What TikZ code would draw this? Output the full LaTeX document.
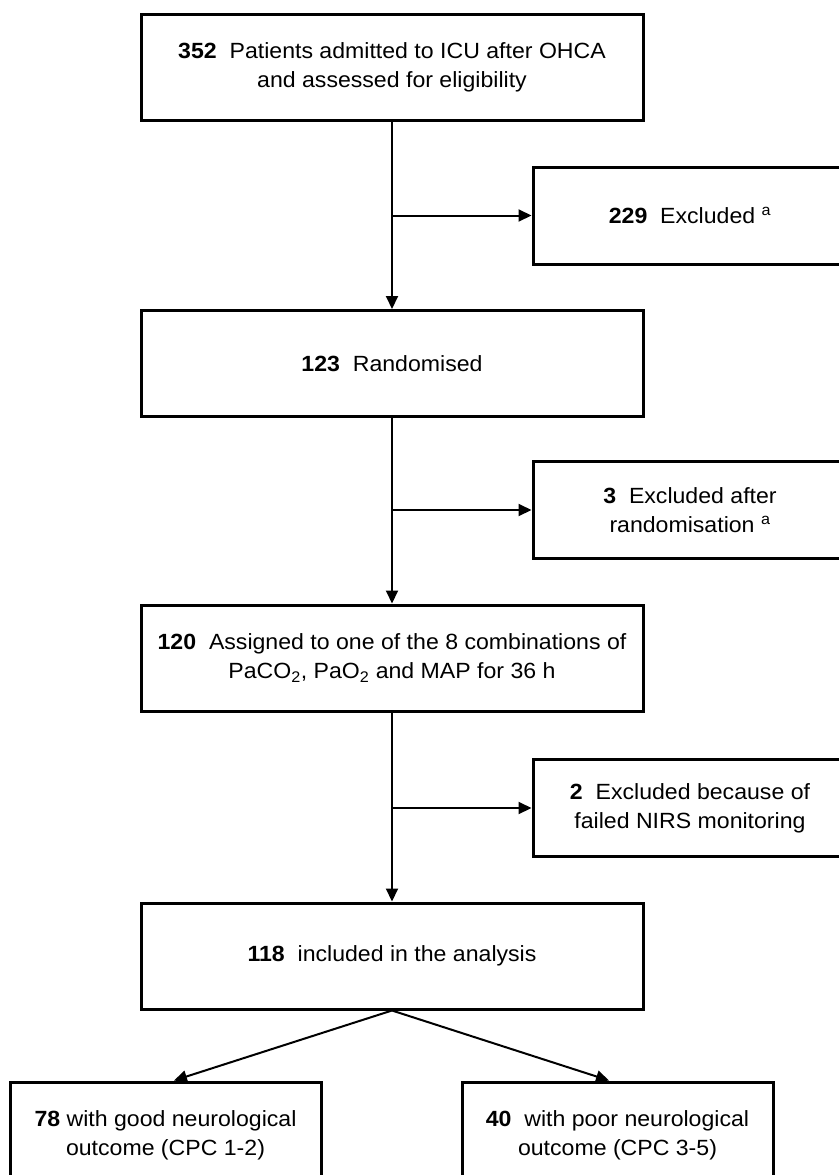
\documentclass[tikz,border=0pt]{standalone}
\usepackage{fontspec}
\setmainfont{Liberation Sans}[FakeStretch=1.05]
\usepackage{tikz}
\usetikzlibrary{arrows.meta,shapes}
\tikzstyle{stage}=[rectangle, draw
,line width=3pt
,minimum width=502pt
,minimum height=106pt
,inner sep=0pt
,align=center
,font=\fontsize{22}{29}\selectfont
]
\tikzstyle{excl}=[stage, minimum width=314pt, minimum height=97pt]
\tikzstyle{outcome}=[stage, minimum width=311pt]
\tikzstyle{edge} = [draw,line width=2pt,-{Triangle[length=13pt,width=12pt]}]

\begin{document}
\begin{tikzpicture}[x=1pt,y=-1pt]
    \useasboundingbox (0,0) rectangle (838,1175);
    % The main column of the flow chart
    \node[stage] (start) at (392,67) {\textbf{352}~ Patients admitted to ICU after OHCA\\ and assessed for eligibility};
    \node[stage] (rand) at (392,363.5) {\textbf{123}~ Randomised};
    \node[stage] (assign) at (392,658) {\textbf{120}~ Assigned to one of the 8 combinations of\\ PaCO\textsubscript{2}, PaO\textsubscript{2} and MAP for 36 h};
    \node[stage] (incl) at (392,956) {\textbf{118}~ included in the analysis};

    % Exclusions on the right
    \node[excl] (excl1) at (690,215.5) {\textbf{229}~ Excluded \textsuperscript{a}};
    \node[excl] (excl2) at (690,510) {\textbf{3}~ Excluded after\\ randomisation \textsuperscript{a}};
    \node[excl] (excl3) at (690,808) {\textbf{2}~ Excluded because of\\ failed NIRS monitoring};

    % Outcome groups
    \node[outcome] (good) at (165.5,1135) {\textbf{78} with good neurological\\ outcome (CPC 1-2)};
    \node[outcome] (poor) at (617.5,1135) {\textbf{40}~ with poor neurological\\ outcome (CPC 3-5)};

    % Connect the stages with arrows
    \foreach \source/\dest in {start/rand, rand/assign, assign/incl}
        \path[edge] (\source.south) -- (\dest.north);

    % Side branches to the exclusions
    \foreach \name/\dest in {j1/excl1, j2/excl2, j3/excl3}
    {
        \coordinate (\name) at (start.south |- \dest.west);
        \path[edge] (\name) -- (\dest.west);
    }

    \path[edge] (incl.south) -- ([xshift=8.5pt]good.north);
    \path[edge] (incl.south) -- ([xshift=-8.5pt]poor.north);
\end{tikzpicture}
\end{document}
